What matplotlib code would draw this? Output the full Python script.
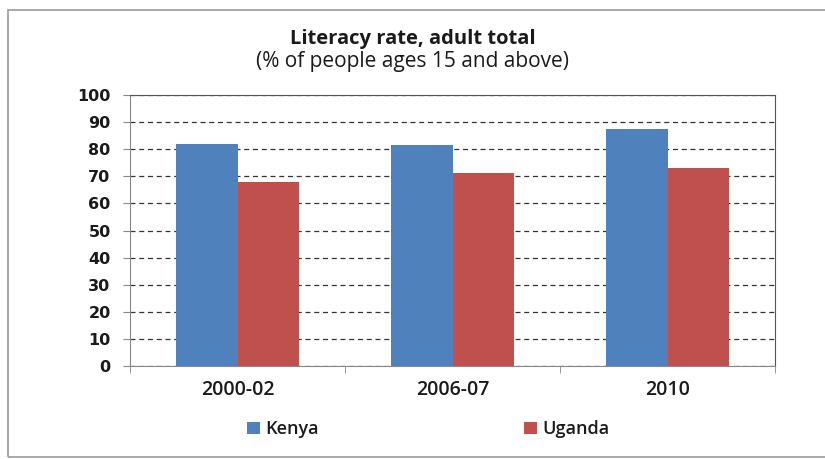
import numpy as np
import matplotlib.pyplot as plt
from matplotlib.patches import Rectangle

plt.rcParams['font.family'] = ['Open Sans', 'DejaVu Sans']

periods = ['2000-02', '2006-07', '2010']
kenya = [82.0, 81.6, 87.5]
uganda = [68.0, 71.2, 73.2]

fig = plt.figure(figsize=(8.25, 4.59), dpi=100)
ax = fig.add_axes([0.1576, 0.2026, 0.7818, 0.5904])

# outer chart border
fig.patches.append(Rectangle((0.010, 0.005), 1.2, 0.973, transform=fig.transFigure,
                             fill=False, edgecolor='#9a9a9a', linewidth=1.2))

x = np.arange(len(periods))
w = 0.286
ax.bar(x - w / 2, kenya, w, color='#4f81bd', label='Kenya', zorder=3)
ax.bar(x + w / 2, uganda, w, color='#c0504d', label='Uganda', zorder=3)

ax.set_xlim(-0.5, 2.5)
ax.set_ylim(0, 100)
ax.set_yticks(np.arange(0, 101, 10))
ax.tick_params(axis='y', length=5, color='#888888', pad=9)
for lbl in ax.get_yticklabels():
    lbl.set_family('DejaVu Sans')
    lbl.set_fontweight('bold')
    lbl.set_fontsize(11.5)
    lbl.set_color('#1a1a1a')

ax.set_xticks(x)
ax.set_xticklabels(periods, fontsize=14, fontweight='semibold', color='#1a1a1a')
ax.tick_params(axis='x', which='major', length=0, pad=10)
ax.set_xticks(np.arange(len(periods) + 1) - 0.5, minor=True)
ax.tick_params(axis='x', which='minor', length=5, color='#888888')

ax.grid(axis='y', linestyle=(0, (4, 3)), color='#333333', linewidth=0.9, zorder=0)
for s in ['left', 'bottom']:
    ax.spines[s].set_color('#888888')
for s in ['top', 'right']:
    ax.spines[s].set_color('#555555')

fig.text(0.5, 0.904, 'Literacy rate, adult total', ha='center', va='baseline',
         fontsize=14.5, fontweight='bold', color='#1a1a1a')
fig.text(0.5, 0.853, '(% of people ages 15 and above)', ha='center', va='baseline',
         fontsize=15, color='#1a1a1a')

leg = fig.legend(loc='center', bbox_to_anchor=(0.519, 0.065), ncol=2, frameon=False,
                 fontsize=13, handlelength=0.7, handleheight=0.7, handletextpad=0.3,
                 columnspacing=11.4)
for t in leg.get_texts():
    t.set_fontweight('semibold')
    t.set_color('#1a1a1a')

fig.savefig('out.png', dpi=100)
